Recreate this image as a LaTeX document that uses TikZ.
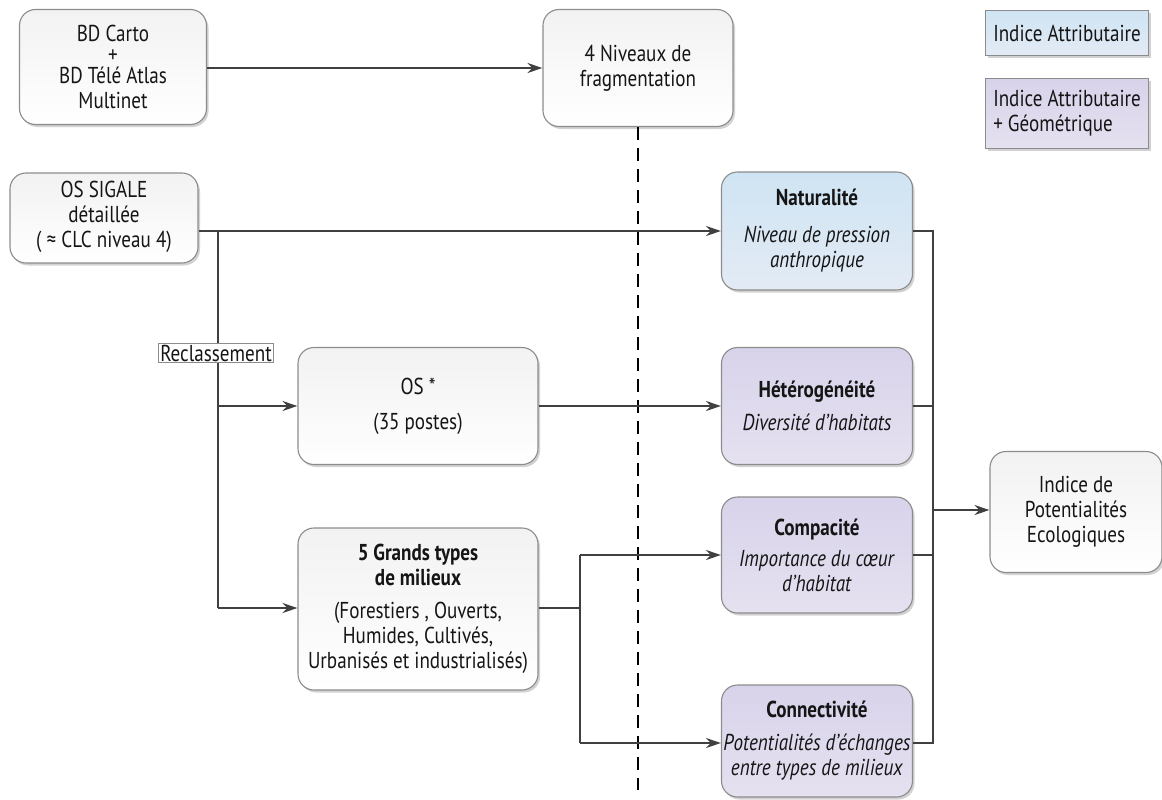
\documentclass[tikz,border=0pt]{standalone}
\usepackage{fontspec}
\setmainfont{PT Sans}[FakeStretch=0.83]
\usetikzlibrary{arrows.meta,shadows}
\definecolor{linec}{HTML}{404040}
\definecolor{bordc}{HTML}{8C8C8C}
\definecolor{blueA}{HTML}{CFE4F3}
\definecolor{blueB}{HTML}{E3EBF5}
\definecolor{purA}{HTML}{D8D3EA}
\definecolor{purB}{HTML}{E5E1F0}
\definecolor{grayA}{HTML}{F2F2F2}
\definecolor{textc}{HTML}{151515}
\tikzset{
  box/.style={draw=bordc, line width=1.1pt, rounded corners=16pt, align=center,
    inner sep=1pt, text=textc, font=\fontsize{23}{25}\selectfont,
    drop shadow={shadow xshift=2pt, shadow yshift=-2.5pt, fill=black!35},
    top color=grayA, bottom color=white},
  bluebox/.style={box, top color=blueA, bottom color=blueB},
  purbox/.style={box, top color=purA, bottom color=purB},
  legbox/.style={draw=bordc, line width=1.1pt, align=left, inner sep=3pt,
    text=textc, font=\fontsize{23}{25}\selectfont,
    drop shadow={shadow xshift=2pt, shadow yshift=-2.5pt, fill=black!35}},
  conn/.style={draw=linec, line width=1.8pt},
  arr/.style={conn, -{Stealth[length=15pt,width=10pt]}},
}
\begin{document}
\begin{tikzpicture}[x=1pt,y=-1pt]
\useasboundingbox (0,0) rectangle (1162,800);
% top row
\node[box, minimum width=187pt, minimum height=115pt] (bd) at (113,67)
  {BD Carto\\[-4pt] +\\[-4pt] BD Télé Atlas\\ Multinet};
\node[box, minimum width=190pt, minimum height=117pt] (niv) at (638,68)
  {4 Niveaux de\\ fragmentation};
% legend
\node[legbox, top color=blueA, bottom color=blueB, minimum width=163pt, minimum height=45pt, anchor=north west] (leg1) at (985,10)
  {Indice Attributaire};
\node[legbox, top color=purA, bottom color=purB, minimum width=163pt, minimum height=70pt, anchor=north west] (leg2) at (985,78)
  {Indice Attributaire\\ + Géométrique};
% left column
\node[box, minimum width=188pt, minimum height=90pt, text depth=8pt] (os) at (104,218)
  {OS SIGALE\\ détaillée\\ ( ≈ CLC niveau 4)};
\node[box, minimum width=240pt, minimum height=117pt] (osstar) at (418,406)
  {OS *\\[10pt] (35 postes)};
\node[box, minimum width=240pt, minimum height=162pt] (grands) at (418,609)
  {\textbf{5 Grands types}\\ \textbf{de milieux}\\[8pt] (Forestiers , Ouverts,\\ Humides, Cultivés,\\ Urbanisés et industrialisés)};
% indices
\node[bluebox, minimum width=191pt, minimum height=118pt] (nat) at (817,231)
  {\textbf{Naturalité}\\[12pt] \textit{Niveau de pression}\\ \textit{anthropique}};
\node[purbox, minimum width=191pt, minimum height=117pt] (het) at (817,406)
  {\textbf{Hétérogénéité}\\[8pt] \textit{Diversité d’habitats}};
\node[purbox, minimum width=191pt, minimum height=116pt] (comp) at (817,555)
  {\textbf{Compacité}\\[6pt] \textit{Importance du cœur}\\ \textit{d’habitat}};
\node[purbox, minimum width=191pt, minimum height=112pt] (conn) at (817,741)
  {\textbf{Connectivité}\\[8pt] \textit{Potentialités d’échanges}\\ \textit{entre types de milieux}};
\node[box, minimum width=172pt, minimum height=121pt] (ipe) at (1076,512)
  {Indice de\\ Potentialités\\ Ecologiques};
% dashed separator
\coordinate (dend) at (638,790);
\draw[black, line width=2.3pt, dash pattern=on 13pt off 8pt] (niv.south) -- (dend);
% connectors
\draw[arr] (bd.east |- niv.west) -- (niv.west);
\coordinate (j1) at (218,231);
\coordinate (j2) at (218,608);
\coordinate (j2a) at (218,406);
\draw[arr] (os.east |- nat.west) -- (nat.west);
\draw[conn] (j1) -- (j2);
\draw[arr] (j2a) -- (osstar.west);
\draw[arr] (j2) -- (grands.west |- j2);
\node[draw=bordc, line width=0.8pt, fill=white, inner sep=1.5pt, text=textc, font=\fontsize{23}{25}\selectfont] (recl) at (216,353) {Reclassement};
\draw[arr] (osstar.east) -- (het.west);
\coordinate (g1) at (580,608);
\coordinate (g2) at (580,555);
\coordinate (g3) at (580,743);
\draw[conn] (grands.east |- g1) -- (g1);
\draw[conn] (g2) -- (g3);
\draw[arr] (g2) -- (comp.west);
\draw[arr] (g3) -- (conn.west |- g3);
\coordinate (b1) at (933,231);
\coordinate (b2) at (933,406);
\coordinate (b3) at (933,555);
\coordinate (b4) at (933,743);
\coordinate (b5) at (933,510);
\draw[conn] (nat.east) -- (b1) -- (b4) -- (conn.east |- b4);
\draw[conn] (het.east) -- (b2);
\draw[conn] (comp.east) -- (b3);
\draw[arr] (b5) -- (ipe.west |- b5);
\end{tikzpicture}
\end{document}
